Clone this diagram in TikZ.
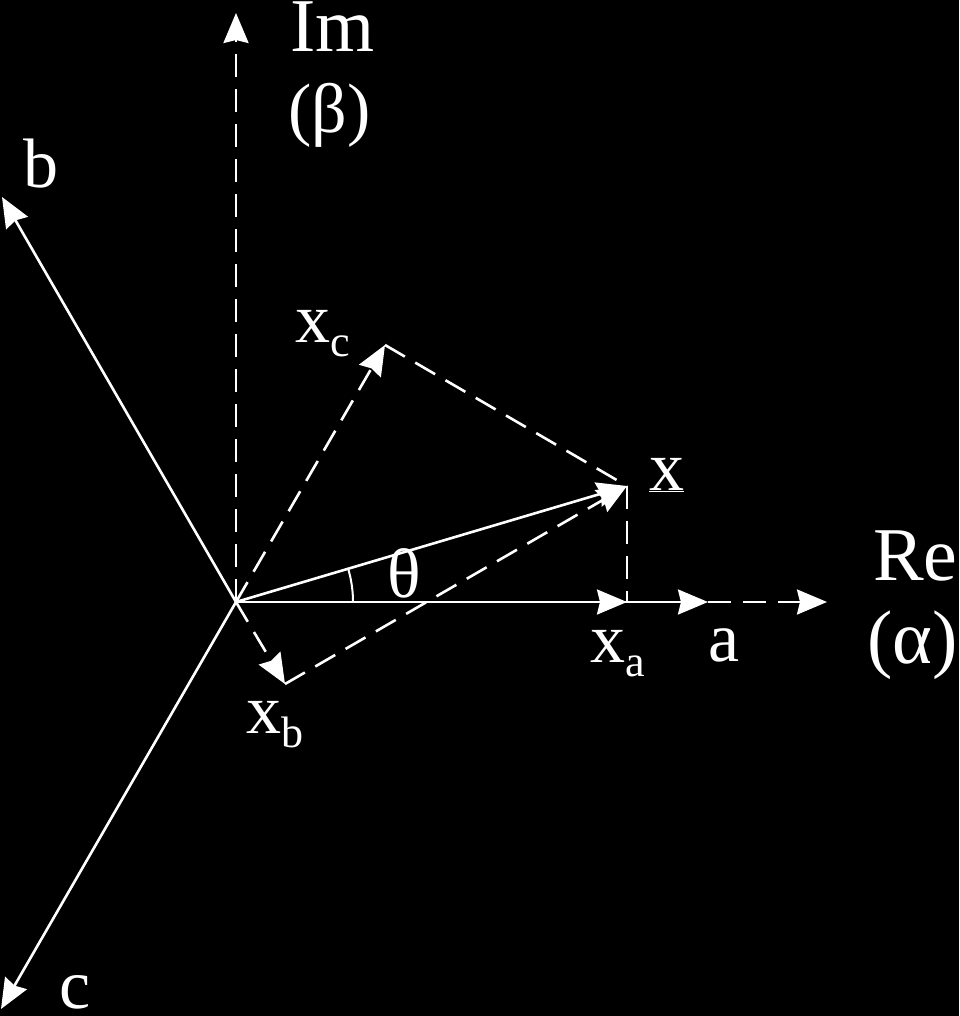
\documentclass[tikz,border=0pt]{standalone}
\usepackage{fontspec}
\setmainfont{Liberation Serif}
\usetikzlibrary{arrows.meta,calc}
\newcommand{\bigtxt}{\fontsize{70}{80}\selectfont}
\newcommand{\axtxt}{\fontsize{76}{84}\selectfont}
\newcommand{\subtxt}[1]{\raisebox{-14pt}{\fontsize{44}{44}\selectfont #1}}
\begin{document}
\begin{tikzpicture}[x=1pt,y=-1pt,
  ln/.style={white,line width=2.6pt},
  dsh/.style={white,line width=2.6pt,dash pattern=on 23pt off 12pt},
  tip/.style={-{Stealth[length=30pt,width=25pt,inset=3pt]}},
  lbl/.style={white,inner sep=0pt,anchor=base west,font=\bigtxt},
  axl/.style={lbl,font=\axtxt}]
\fill[black] (0,0) rectangle (959,1016);
\useasboundingbox (0,0) rectangle (959,1016);
% points
\coordinate (O) at (236,602);
\coordinate (Atip) at (708,602);
\coordinate (Retip) at (827,602);
\coordinate (Imtip) at (236,13);
\coordinate (Btip) at (2,197);
\coordinate (Ctip) at (1,1009);
\coordinate (X) at (627,486);
\coordinate (XA) at (627,602);
\coordinate (XB) at (285,684);
\coordinate (XC) at (385,345);
\coordinate (ArcS) at (353,602);
% axes
\draw[dsh,tip] (O) -- (Imtip);
\draw[ln,tip] (O) -- (Btip);
\draw[ln,tip] (O) -- (Ctip);
\draw[ln,tip] (O) -- (Atip);
\draw[dsh,tip] (Atip) -- (Retip);
% components
\draw[ln,tip] (O) -- (XA);
\draw[dsh,tip] (O) -- (XB);
\draw[dsh,tip] (O) -- (XC);
\draw[dsh] (XC) -- (X);
\draw[dsh,tip] (XB) -- (X);
\draw[dsh] (X) -- (XA);
\draw[ln,tip] (O) -- (X);
% angle arc
\draw[white,line width=2pt] (ArcS) arc[start angle=0,end angle=-16.6,radius=117];
% labels
\node[axl,text height=49pt,text depth=0pt] (lIm) at (290,52) {Im};
\node[lbl] (lBeta) at (288,133) {(β)};
\node[lbl] (lb) at (23,188) {b};
\node[lbl] (lxc) at (295,342) {x\subtxt{c}};
\node[lbl] (lx) at (649,490) {\underline{x}};
\node[lbl,anchor=base] (lth) at (404,597) {θ};
\node[lbl] (lxa) at (590,662) {x\subtxt{a}};
\node[lbl] (la) at (708,661) {a};
\node[axl] (lRe) at (873,580) {Re};
\node[axl] (lAlpha) at (867,663) {(α)};
\node[lbl] (lxb) at (246,733) {x\subtxt{b}};
\node[lbl,text height=33pt,text depth=0pt] (lc) at (59,1008) {c};
\end{tikzpicture}
\end{document}
